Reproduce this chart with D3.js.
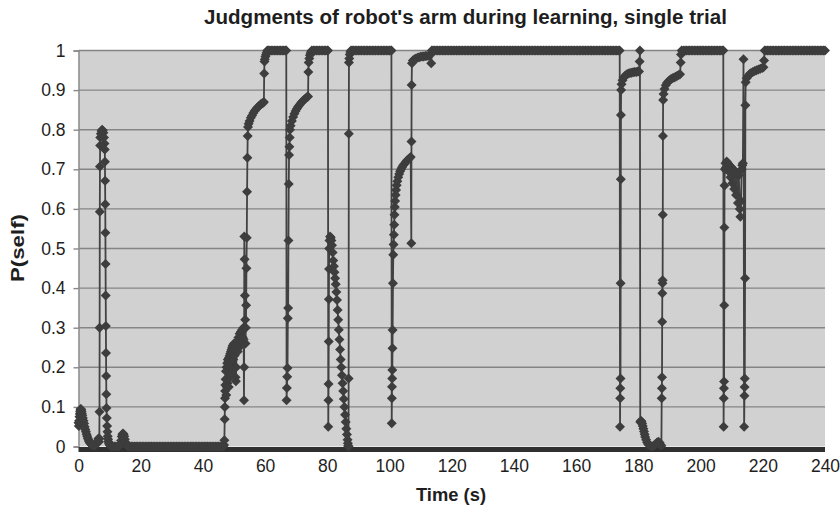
<!DOCTYPE html>
<html><head><meta charset="utf-8">
<script src="https://cdn.jsdelivr.net/npm/d3@7/dist/d3.min.js"></script>
<style>body{margin:0;background:#fff}</style>
</head><body>
<svg id="chart" width="840" height="513"></svg>
<script>
// ---------- data ----------
const chartTitle = "Judgments of robot's arm during learning, single trial";
const xAxisTitle = "Time (s)";
const yAxisTitle = "P(self)";
const xTicks = [0,20,40,60,80,100,120,140,160,180,200,220,240];
const yTicks = [0,0.1,0.2,0.3,0.4,0.5,0.6,0.7,0.8,0.9,1];
const yTickLabels = ["0","0.1","0.2","0.3","0.4","0.5","0.6","0.7","0.8","0.9","1"];

// [time (s), P(self)]
const startPhase = [
[0,0.06],[0.1,0.052],[0.2,0.065],[0.3,0.075],[0.4,0.082],[0.5,0.088],[0.6,0.092],[0.7,0.095],[0.8,0.094],[0.9,0.092],[1,0.088],[1.1,0.083],[1.2,0.078],[1.4,0.072],[1.6,0.065],[1.8,0.058],[2,0.05],[2.2,0.043],[2.4,0.037],[2.6,0.031],[2.8,0.026],[3,0.021],[3.2,0.017],[3.4,0.013],[3.6,0.01],[3.8,0.008],[4,0.006],[4.3,0.004],[4.6,0.003],[5,0.002],[5.4,0.004],[5.8,0.008],[6.1,0.014],[6.4,0.02],[6.6,0.012],
[6.7,0.02],[6.75,0.088],[6.8,0.3],[6.85,0.593],[6.9,0.707],[6.95,0.76],[7,0.78],[7.2,0.79],[7.4,0.797],[7.6,0.8],[7.8,0.798],[8,0.792],[8.2,0.78],[8.35,0.765],[8.45,0.75],[8.5,0.719],[8.55,0.671],[8.6,0.612],[8.65,0.54],[8.7,0.461],[8.75,0.381],[8.8,0.304],[8.85,0.236],[8.9,0.178],[8.95,0.132],[9,0.097],[9.1,0.072],[9.2,0.052],[9.3,0.037],[9.4,0.026],[9.5,0.018],[9.6,0.012],[9.8,0.007],[10,0.004],[10.3,0.002],[10.6,0],[11,0],[11.5,0],[12,0],[12.5,0],[13,0],
[13.5,0.005],[13.7,0.015],[13.9,0.025],[14.1,0.031],[14.3,0.033],[14.5,0.031],[14.7,0.026],[14.9,0.018],[15.1,0.011],[15.3,0.005],[15.6,0.002],[16,0]
];
const idlePhase = [
[16.5,0],[17,0],[17.5,0],[18,0],[18.5,0],[19,0],[19.5,0],[20,0],[20.5,0],[21,0],[21.5,0],[22,0],[22.5,0],[23,0],[23.5,0],[24,0],[24.5,0],[25,0],[25.5,0],[26,0],[26.5,0],[27,0],[27.5,0],[28,0],[28.5,0],[29,0],[29.5,0],[30,0],[30.5,0],[31,0],[31.5,0],[32,0],[32.5,0],[33,0],[33.5,0],[34,0],[34.5,0],[35,0],[35.5,0],[36,0],[36.5,0],[37,0],[37.5,0],[38,0],[38.5,0],[39,0],[39.5,0],[40,0],[40.5,0],[41,0],[41.5,0],[42,0],[42.5,0],[43,0],[43.5,0],[44,0],[44.5,0],[45,0],[45.5,0],[46,0],[46.5,0]
];
const learnPhase = [
[46.8,0.004],[46.9,0.016],[47,0.069],[47.05,0.1],[47.1,0.122],[47.15,0.14],[47.2,0.155],[47.3,0.17],[47.4,0.19],[47.5,0.13],[47.6,0.2],[47.7,0.15],[47.8,0.21],[47.9,0.16],[48,0.22],[48.1,0.17],[48.2,0.215],[48.3,0.15],[48.4,0.225],[48.5,0.18],[48.6,0.23],[48.7,0.19],[48.8,0.235],[48.9,0.2],[49,0.24],[49.1,0.185],[49.2,0.245],[49.3,0.21],[49.4,0.25],[49.5,0.2],[49.6,0.255],[49.8,0.22],[50,0.26],[50.2,0.23],[50.4,0.2],[50.5,0.175],[50.6,0.165],[50.7,0.2],[50.8,0.24],[51,0.265],[51.2,0.24],[51.4,0.275],[51.6,0.25],[51.8,0.285],[52,0.26],[52.2,0.29],[52.4,0.265],[52.6,0.295],[52.8,0.275],[53,0.3],[53.1,0.27],[53.2,0.117],[53.25,0.2],[53.3,0.53],[53.4,0.473],[53.5,0.381],[53.6,0.32],[53.7,0.26],[53.8,0.3],[53.9,0.357],[54,0.45],[54.1,0.527],[54.2,0.643],[54.3,0.729],[54.4,0.784],[54.5,0.807],[54.7,0.815],[55,0.822],[55.4,0.83],[55.8,0.836],[56.2,0.842],[56.6,0.847],[57,0.851],[57.4,0.855],[57.8,0.858],[58.2,0.861],[58.6,0.864],[59,0.866],[59.4,0.868],[59.6,0.87],[59.7,0.942],[59.8,0.972],[59.9,0.978],[60.1,0.985],[60.3,0.99],[60.5,0.995],
[60.7,1],[61,1],[61.5,1],[62,1],[62.5,1],[63,1],[63.5,1],[64,1],[64.5,1],[65,1],[65.5,1],[66,1],[66.5,1],[66.8,1],
[66.9,0.117],[67,0.148],[67.1,0.176],[67.2,0.198],[67.3,0.324],[67.4,0.35],[67.5,0.52],[67.6,0.663],[67.7,0.736],[67.8,0.757],[67.9,0.78],[68,0.8],[68.2,0.81],[68.6,0.822],[69,0.832],[69.4,0.84],[69.8,0.847],[70.2,0.853],[70.6,0.858],[71,0.862],[71.4,0.866],[71.8,0.87],[72.2,0.873],[72.6,0.876],[73,0.879],[73.4,0.882],[73.8,0.884],[73.9,0.946],[74,0.97],[74.2,0.98],[74.4,0.988],[74.6,0.993],[74.8,0.997],
[75,1],[75.5,1],[76,1],[76.5,1],[77,1],[77.5,1],[78,1],[78.5,1],[79,1],[79.5,1],[80,1],[80.2,1],
[80.3,0.05],[80.35,0.117],[80.4,0.158],[80.45,0.265],[80.5,0.372],[80.55,0.448],[80.6,0.5],[80.7,0.52],[80.9,0.53],[81.1,0.527],[81.3,0.52],[81.5,0.508],[81.7,0.49],[81.9,0.47],[82.1,0.455],[82.3,0.44],[82.5,0.425],[82.7,0.41],[82.9,0.39],[83.1,0.37],[83.3,0.345],[83.5,0.32],[83.7,0.295],[83.9,0.27],[84.1,0.245],[84.3,0.22],[84.5,0.2],[84.7,0.18],[84.9,0.16],[85.1,0.14],[85.3,0.12],[85.5,0.1],[85.7,0.08],[85.9,0.062],[86.1,0.045],[86.3,0.03],[86.5,0.017],[86.6,0.008],[86.7,0.002],[86.8,0],[86.85,0.172],[86.9,0.79],[86.95,0.97],[87.05,0.98],[87.2,0.99],[87.4,0.996],
[87.6,1],[88,1],[88.5,1],[89,1],[89.5,1],[90,1],[90.5,1],[91,1],[91.5,1],[92,1],[92.5,1],[93,1],[93.5,1],[94,1],[94.5,1],[95,1],[95.5,1],[96,1],[96.5,1],[97,1],[97.5,1],[98,1],[98.5,1],[99,1],[99.5,1],[100,1],[100.5,1],[100.6,1],
[100.7,0.059],[100.75,0.122],[100.8,0.151],[100.85,0.172],[100.9,0.193],[100.95,0.248],[101,0.294],[101.1,0.412],[101.2,0.484],[101.3,0.51],[101.4,0.535],[101.5,0.56],[101.6,0.585],[101.7,0.605],[101.8,0.62],[101.95,0.635],[102.1,0.648],[102.3,0.66],[102.5,0.67],[102.8,0.68],[103.1,0.688],[103.4,0.695],[103.7,0.7],[104,0.705],[104.4,0.71],[104.8,0.714],[105.2,0.718],[105.6,0.722],[106,0.725],[106.4,0.728],[106.8,0.731],[107,0.513],[107.05,0.77],[107.1,0.913],[107.2,0.968],[107.5,0.975],[108,0.978],[108.5,0.98],[109,0.982],[109.5,0.983],[110,0.984],[110.5,0.985],[111,0.985],[111.5,0.986],[112,0.986],[112.5,0.987],[113,0.988],[113.4,0.968]
];
const confidentPhase = [
[113.6,1],[114,1],[114.5,1],[115,1],[115.5,1],[116,1],[116.5,1],[117,1],[117.5,1],[118,1],[118.5,1],[119,1],[119.5,1],[120,1],[120.5,1],[121,1],[121.5,1],[122,1],[122.5,1],[123,1],[123.5,1],[124,1],[124.5,1],[125,1],[125.5,1],[126,1],[126.5,1],[127,1],[127.5,1],[128,1],[128.5,1],[129,1],[129.5,1],[130,1],[130.5,1],[131,1],[131.5,1],[132,1],[132.5,1],[133,1],[133.5,1],[134,1],[134.5,1],[135,1],[135.5,1],[136,1],[136.5,1],[137,1],[137.5,1],[138,1],[138.5,1],[139,1],[139.5,1],[140,1],[140.5,1],[141,1],[141.5,1],[142,1],[142.5,1],[143,1],[143.5,1],[144,1],[144.5,1],[145,1],[145.5,1],[146,1],[146.5,1],[147,1],[147.5,1],[148,1],[148.5,1],[149,1],[149.5,1],[150,1],[150.5,1],[151,1],[151.5,1],[152,1],[152.5,1],[153,1],[153.5,1],[154,1],[154.5,1],[155,1],[155.5,1],[156,1],[156.5,1],[157,1],[157.5,1],[158,1],[158.5,1],[159,1],[159.5,1],[160,1],[160.5,1],[161,1],[161.5,1],[162,1],[162.5,1],[163,1],[163.5,1],[164,1],[164.5,1],[165,1],[165.5,1],[166,1],[166.5,1],[167,1],[167.5,1],[168,1],[168.5,1],[169,1],[169.5,1],[170,1],[170.5,1],[171,1],[171.5,1],[172,1],[172.5,1],[173,1],[173.5,1],[174,1]
];
const perturbPhase = [
[174.1,0.05],[174.15,0.122],[174.2,0.147],[174.25,0.172],[174.3,0.412],[174.35,0.675],[174.4,0.837],[174.45,0.9],[174.6,0.915],[174.9,0.925],[175.3,0.932],[175.8,0.937],[176.3,0.94],[176.8,0.942],[177.3,0.943],[177.8,0.944],[178.3,0.945],[178.8,0.946],[179.3,0.946],[179.8,0.947],[180.2,0.947],[180.4,0.972],[180.5,1],
[180.6,0.062],[180.8,0.065],[181,0.063],[181.2,0.058],[181.4,0.052],[181.6,0.045],[181.8,0.038],[182,0.031],[182.2,0.024],[182.5,0.017],[182.8,0.011],[183.1,0.006],[183.5,0.003],[184,0.001],[184.5,0],[185,0.002],[185.5,0.006],[186,0.01],[186.4,0.012],[186.8,0.01],[187.1,0.005],[187.4,0.002],
[187.5,0.122],[187.55,0.147],[187.6,0.175],[187.65,0.315],[187.7,0.387],[187.75,0.412],[187.8,0.42],[187.85,0.585],[187.9,0.784],[187.95,0.875],[188.1,0.89],[188.4,0.903],[188.8,0.912],[189.2,0.918],[189.6,0.922],[190,0.925],[190.5,0.928],[191,0.93],[191.5,0.932],[192,0.934],[192.5,0.936],[193,0.938],[193.4,0.94],[193.6,0.97],[193.7,0.99],
[193.9,1],[194.5,1],[195,1],[195.5,1],[196,1],[196.5,1],[197,1],[197.5,1],[198,1],[198.5,1],[199,1],[199.5,1],[200,1],[200.5,1],[201,1],[201.5,1],[202,1],[202.5,1],[203,1],[203.5,1],[204,1],[204.5,1],[205,1],[205.5,1],[206,1],[206.5,1],[207,1],[207.3,1],
[207.4,0.05],[207.45,0.122],[207.5,0.147],[207.55,0.164],[207.6,0.357],[207.65,0.553],[207.7,0.659],[207.8,0.7],[208,0.715],[208.2,0.705],[208.4,0.72],[208.6,0.7],[208.8,0.715],[209,0.695],[209.3,0.71],[209.6,0.68],[209.9,0.705],[210.2,0.665],[210.5,0.7],[210.8,0.65],[211.1,0.695],[211.4,0.635],[211.7,0.69],[212,0.615],[212.3,0.685],[212.6,0.6],[212.8,0.58],[213,0.62],[213.2,0.7],[213.4,0.71],[213.6,0.715],[213.8,0.978],
[214,0.05],[214.1,0.128],[214.15,0.15],[214.2,0.172],[214.3,0.425],[214.4,0.862],[214.5,0.92],[214.8,0.93],[215.2,0.935],[215.7,0.94],[216.2,0.943],[216.8,0.946],[217.4,0.948],[218,0.95],[218.6,0.952],[219.2,0.954],[219.8,0.956],[220.2,0.958],[220.4,0.975],
[220.6,1],[221,1],[221.5,1],[222,1],[222.5,1],[223,1],[223.5,1],[224,1],[224.5,1],[225,1],[225.5,1],[226,1],[226.5,1],[227,1],[227.5,1],[228,1],[228.5,1],[229,1],[229.5,1],[230,1],[230.5,1],[231,1],[231.5,1],[232,1],[232.5,1],[233,1],[233.5,1],[234,1],[234.5,1],[235,1],[235.5,1],[236,1],[236.5,1],[237,1],[237.5,1],[238,1],[238.5,1],[239,1],[239.5,1],[240,1]
];
const samples = [].concat(startPhase, idlePhase, learnPhase, confidentPhase, perturbPhase);

// ---------- drawing ----------
const FONT = "'Liberation Sans', Arial, Helvetica, sans-serif";
const svg = d3.select('#chart');
const x = d3.scaleLinear().domain([0,240]).range([78.5,825]);
const y = d3.scaleLinear().domain([0,1]).range([446.5,50.5]);

// plot area
svg.append('rect').attr('x',x(0)).attr('y',y(1)).attr('width',x(240)-x(0)).attr('height',y(0)-y(1)).attr('fill','#d1d1d1');
// gridlines
svg.append('g').selectAll('line').data(yTicks.filter(d=>d>0)).join('line')
  .attr('x1',x(0)).attr('x2',x(240)).attr('y1',d=>y(d)).attr('y2',d=>y(d))
  .attr('stroke','#858585').attr('stroke-width',1.4);

// y axis
const gy = svg.append('g').attr('transform',`translate(${x(0)},0)`)
  .call(d3.axisLeft(y).tickValues(yTicks).tickFormat((d,i)=>yTickLabels[i]).tickSize(5).tickPadding(8));
gy.select('.domain').attr('stroke','#888').attr('stroke-width',1.4);
gy.selectAll('.tick line').attr('stroke','#888').attr('stroke-width',1.4);
gy.selectAll('.tick text').attr('font-family',FONT).attr('font-size',17.5).attr('fill','#1e1e1e');

// x axis (dark base band)
svg.append('rect').attr('x',x(0)).attr('y',447).attr('width',x(240)-x(0)).attr('height',5).attr('fill','#303030');
const gx = svg.append('g').attr('transform',`translate(0,452)`)
  .call(d3.axisBottom(x).tickValues(xTicks).tickSize(0).tickPadding(8));
gx.select('.domain').remove();
gx.selectAll('.tick text').attr('font-family',FONT).attr('font-size',17.5).attr('fill','#1e1e1e');

// series line + diamond markers
const line = d3.line().x(d=>x(d[0])).y(d=>y(d[1]));
svg.append('path').datum(samples).attr('d',line).attr('fill','none').attr('stroke','#424242').attr('stroke-width',1.8);
const r = 5;
const diamond = `M0,${-r}L${r},0L0,${r}L${-r},0Z`;
svg.append('g').selectAll('path').data(samples).join('path')
  .attr('d',diamond).attr('transform',d=>`translate(${x(d[0])},${y(d[1])})`).attr('fill','#3d3d3d');

// titles
svg.append('text').attr('x',465.5).attr('y',24).attr('text-anchor','middle')
  .attr('font-family',FONT).attr('font-weight','bold').attr('font-size',19.5).attr('fill','#1e1e1e')
  .attr('textLength',523).attr('lengthAdjust','spacingAndGlyphs').text(chartTitle);
svg.append('text').attr('x',451).attr('y',501).attr('text-anchor','middle')
  .attr('font-family',FONT).attr('font-weight','bold').attr('font-size',18).attr('fill','#1e1e1e')
  .attr('textLength',70).attr('lengthAdjust','spacingAndGlyphs').text(xAxisTitle);
svg.append('text').attr('transform','translate(24,248) rotate(-90)').attr('text-anchor','middle')
  .attr('font-family',FONT).attr('font-weight','bold').attr('font-size',18).attr('fill','#1e1e1e')
  .attr('textLength',68).attr('lengthAdjust','spacingAndGlyphs').text(yAxisTitle);
</script>
</body></html>
